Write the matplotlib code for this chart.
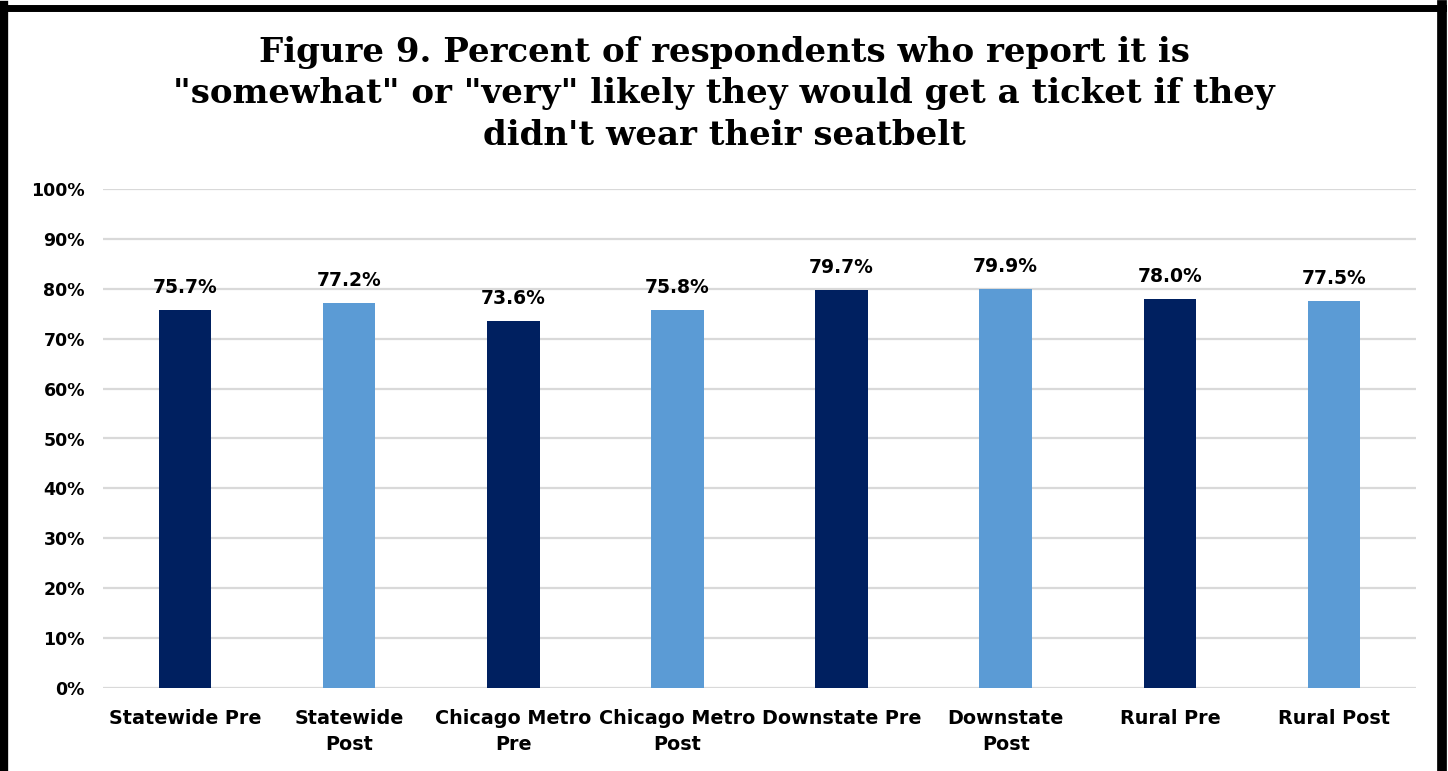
import matplotlib
matplotlib.use("Agg")
import matplotlib.pyplot as plt
from matplotlib.lines import Line2D
from matplotlib.ticker import MultipleLocator, FuncFormatter

categories = ["Statewide Pre", "Statewide\nPost", "Chicago Metro\nPre", "Chicago Metro\nPost",
              "Downstate Pre", "Downstate\nPost", "Rural Pre", "Rural Post"]
values = [75.7, 77.2, 73.6, 75.8, 79.7, 79.9, 78.0, 77.5]
colors = ["#002060", "#5B9BD5", "#002060", "#5B9BD5", "#002060", "#5B9BD5", "#002060", "#5B9BD5"]
title = 'Figure 9. Percent of respondents who report it is\n"somewhat" or "very" likely they would get a ticket if they\ndidn\'t wear their seatbelt'

W, H = 1448, 771
fig = plt.figure(figsize=(W / 100, H / 100), dpi=100)
ax = fig.add_axes([103 / W, 1 - 688 / H, (1416 - 103) / W, (688 - 189) / H])

x = list(range(len(categories)))
ax.bar(x, values, width=0.32, color=colors, zorder=3)
for xi, v in zip(x, values):
    ax.text(xi, v + 2.6, f"{v:.1f}%", ha="center", va="bottom", fontsize=13.5,
            fontweight="bold", color="#000000", family="DejaVu Sans")

ax.set_xlim(-0.5, len(categories) - 0.5)
ax.set_ylim(0, 100)
ax.yaxis.set_major_locator(MultipleLocator(10))
ax.yaxis.set_major_formatter(FuncFormatter(lambda v, p: f"{v:.0f}%"))
ax.grid(axis="y", color="#D9D9D9", linewidth=1.6, zorder=0)
for s in ax.spines.values():
    s.set_visible(False)
ax.tick_params(axis="x", length=0, labelsize=13.8, pad=15)
ax.tick_params(axis="y", length=0, labelsize=12.5, pad=13)
ax.set_xticks(x)
ax.set_xticklabels(categories, fontweight="bold", linespacing=1.5)
for lab in ax.get_yticklabels():
    lab.set_fontweight("bold")

fig.text(0.5, 1 - 94 / H, title, ha="center", va="center", fontsize=24.5,
         fontweight="bold", family="DejaVu Serif", linespacing=1.32)

# Border
bc = "#000000"
fig.add_artist(Line2D([4 / W, 4 / W], [0, 1 - 5 / H], transform=fig.transFigure, color=bc, linewidth=6))
fig.add_artist(Line2D([1 / W, 1443 / W], [1 - 8 / H, 1 - 8 / H], transform=fig.transFigure, color=bc, linewidth=5))
fig.add_artist(Line2D([1442 / W, 1442 / W], [0, 1 - 5 / H], transform=fig.transFigure, color=bc, linewidth=7))

fig.savefig("out.png", dpi=100)
